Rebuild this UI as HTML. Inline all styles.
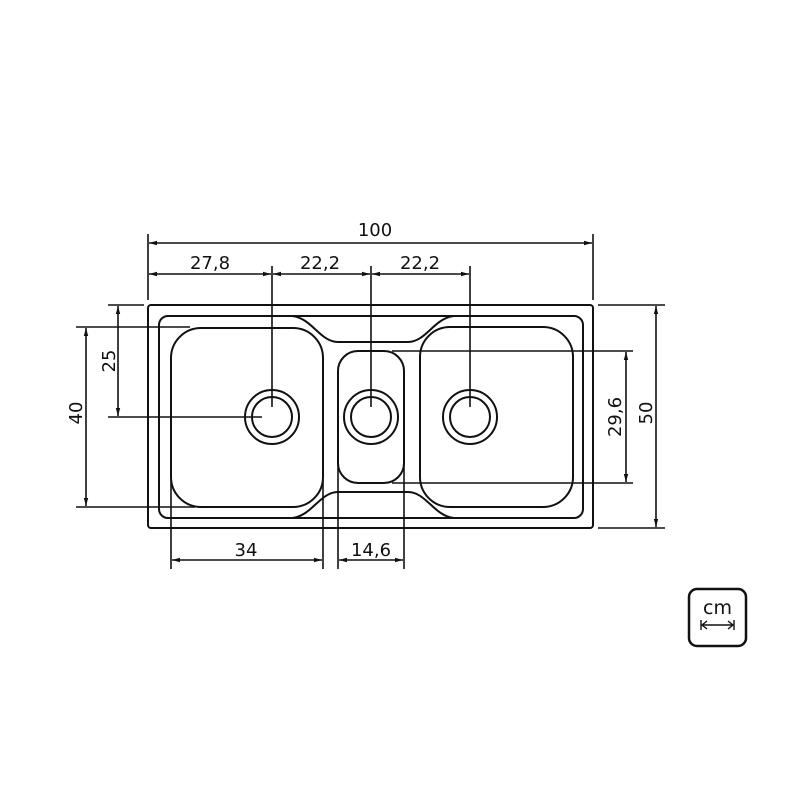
<!DOCTYPE html>
<html><head><meta charset="utf-8"><style>
html,body{margin:0;padding:0;background:#fff;}
svg{display:block}
text{font-family:"DejaVu Sans","Liberation Sans",sans-serif;fill:#111;font-size:18px}
</style></head><body>
<svg width="800" height="800" viewBox="0 0 800 800" xmlns="http://www.w3.org/2000/svg">
<defs>
<marker id="a" markerWidth="8" markerHeight="6" refX="8" refY="3" orient="auto-start-reverse" markerUnits="userSpaceOnUse">
<path d="M0,0.8 L8,3 L0,5.2 Z" fill="#111"/></marker>
</defs>
<g fill="none" stroke="#111" stroke-width="2">
<rect x="148" y="305" width="445" height="223" rx="3"/>
<rect x="159" y="316" width="424" height="202" rx="9"/>
<path d="M292,316 C312,318 320,342 338,342 L408,342 C426,342 434,318 454,316"/>
<path d="M292,518 C312,516 320,492 338,492 L408,492 C426,492 434,516 454,518"/>
<rect x="171" y="328" width="152" height="179" rx="30"/>
<rect x="338" y="351" width="66" height="132" rx="20"/>
<rect x="420" y="327" width="153" height="180" rx="30"/>
<circle cx="272" cy="417" r="27"/><circle cx="272" cy="417" r="20"/>
<circle cx="371" cy="417" r="27"/><circle cx="371" cy="417" r="20"/>
<circle cx="470" cy="417" r="27"/><circle cx="470" cy="417" r="20"/>
</g>
<g fill="none" stroke="#111" stroke-width="1.6">
<line x1="148" y1="234" x2="148" y2="300"/>
<line x1="593" y1="234" x2="593" y2="300"/>
<line x1="149" y1="243" x2="592" y2="243" marker-start="url(#a)" marker-end="url(#a)"/>
<line x1="272" y1="266" x2="272" y2="407"/>
<line x1="371" y1="266" x2="371" y2="407"/>
<line x1="470" y1="266" x2="470" y2="407"/>
<line x1="149" y1="274" x2="271" y2="274" marker-start="url(#a)" marker-end="url(#a)"/>
<line x1="273" y1="274" x2="370" y2="274" marker-start="url(#a)" marker-end="url(#a)"/>
<line x1="372" y1="274" x2="469" y2="274" marker-start="url(#a)" marker-end="url(#a)"/>
<line x1="108" y1="305" x2="144" y2="305"/>
<line x1="76" y1="327" x2="190" y2="327"/>
<line x1="108" y1="417" x2="262" y2="417"/>
<line x1="76" y1="507" x2="195" y2="507"/>
<line x1="118" y1="306" x2="118" y2="416" marker-start="url(#a)" marker-end="url(#a)"/>
<line x1="86" y1="328" x2="86" y2="506" marker-start="url(#a)" marker-end="url(#a)"/>
<line x1="392" y1="351" x2="633" y2="351"/>
<line x1="392" y1="483" x2="633" y2="483"/>
<line x1="626" y1="352" x2="626" y2="482" marker-start="url(#a)" marker-end="url(#a)"/>
<line x1="598" y1="305" x2="665" y2="305"/>
<line x1="598" y1="528" x2="665" y2="528"/>
<line x1="656" y1="306" x2="656" y2="527" marker-start="url(#a)" marker-end="url(#a)"/>
<line x1="171" y1="480" x2="171" y2="569"/>
<line x1="323" y1="480" x2="323" y2="569"/>
<line x1="338" y1="460" x2="338" y2="569"/>
<line x1="404" y1="460" x2="404" y2="569"/>
<line x1="172" y1="560" x2="322" y2="560" marker-start="url(#a)" marker-end="url(#a)"/>
<line x1="339" y1="560" x2="403" y2="560" marker-start="url(#a)" marker-end="url(#a)"/>
</g>
<text x="375" y="236" text-anchor="middle">100</text>
<text x="210" y="269" text-anchor="middle">27,8</text>
<text x="320" y="269" text-anchor="middle">22,2</text>
<text x="420" y="269" text-anchor="middle">22,2</text>
<text x="246" y="556" text-anchor="middle">34</text>
<text x="371" y="556" text-anchor="middle">14,6</text>
<text transform="translate(115,361) rotate(-90)" text-anchor="middle">25</text>
<text transform="translate(82,413) rotate(-90)" text-anchor="middle">40</text>
<text transform="translate(621,417) rotate(-90)" text-anchor="middle">29,6</text>
<text transform="translate(652,413) rotate(-90)" text-anchor="middle">50</text>
<rect x="689" y="589" width="57" height="57" rx="8" fill="none" stroke="#111" stroke-width="2.5"/>
<text x="717.5" y="614" text-anchor="middle" style="font-size:19px">cm</text>
<g stroke="#111" stroke-width="1.4" fill="none">
<line x1="701" y1="620" x2="701" y2="630"/><line x1="734" y1="620" x2="734" y2="630"/>
<line x1="702" y1="625" x2="733" y2="625"/>
<path d="M707,621 L702,625 L707,629 M728,621 L733,625 L728,629"/>
</g>
</svg>
</body></html>
